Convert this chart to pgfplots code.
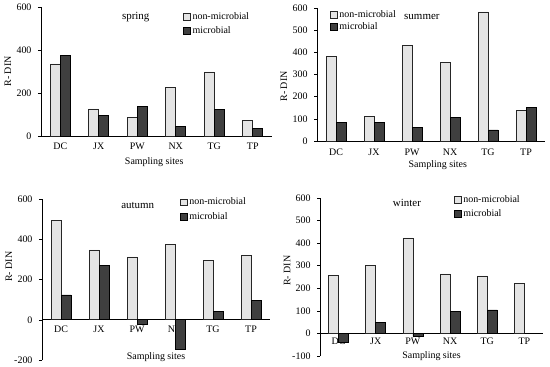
\documentclass[border=0pt]{standalone}
\usepackage{fontspec}
\setmainfont{Liberation Serif}
\usepackage{pgfplots}
\pgfplotsset{compat=1.18}
\definecolor{lightbar}{HTML}{E4E4E4}
\definecolor{darkbar}{HTML}{3F3F3F}
\pgfplotsset{
  panel/.style={
    scale only axis,
    anchor=south west,
    ybar=0pt, bar width=10bp,
    xmin=-0.5, xmax=5.5,
    xtick={0,...,5}, xticklabels={DC,JX,PW,NX,TG,TP},
    axis y line*=left,
    tick align=outside, major tick length=3bp,
    xtick style={draw=none},
    ytick style={black, line width=0.5bp},
    axis line style={black, line width=0.6bp},
    /pgf/number format/assume math mode=true,
    tick label style={font=\fontsize{10}{11}\selectfont},
    label style={font=\fontsize{10}{11}\selectfont},
    yticklabel style={xshift=-3bp},
    hide obscured x ticks=false, hide obscured y ticks=false,
    legend style={draw=none, fill=none, font=\fontsize{10}{11}\selectfont, anchor=north west, inner sep=0pt, row sep=1.5bp},
    legend cell align=left,
    legend image code/.code={\draw[#1, line width=0.5bp] (0bp,-3.4bp) rectangle (6.8bp,3.4bp);},
    clip=false,
  },
  nonm/.style={fill=lightbar, draw=black!85, line width=0.6bp},
  micr/.style={fill=darkbar, draw=black, line width=0.6bp},
}
\begin{document}
\begin{tikzpicture}
\useasboundingbox (0,0) rectangle (550bp,367bp);
% spring
\begin{axis}[panel, at={(41bp,231bp)}, width=231bp, height=129bp,
  axis x line*=bottom, ymin=0, ymax=600, ytick={0,200,400,600},
  ylabel={R- DIN}, ylabel style={at={(axis description cs:-0.143,0.5)}, anchor=center},
  xlabel={Sampling sites}, xlabel style={at={(axis description cs:0.49,-0.2)}, anchor=center},
  legend style={at={(axis description cs:0.615,0.975)}, row sep=2bp}]
\addplot[nonm] coordinates {(0,335) (1,126) (2,88) (3,227) (4,298) (5,74)};
\addplot[micr] coordinates {(0,376) (1,97) (2,137) (3,45) (4,122) (5,34)};
\legend{non-microbial, microbial}
\node[font=\fontsize{11}{12}\selectfont] at (axis description cs:0.41,0.92) {spring};
\end{axis}
% summer
\begin{axis}[panel, at={(317bp,226bp)}, width=228bp, height=133bp,
  axis x line*=bottom, ymin=0, ymax=600, ytick={0,100,...,600},
  xticklabel style={yshift=-1.5bp},
  ylabel={R- DIN}, ylabel style={at={(axis description cs:-0.145,0.41)}, anchor=center},
  xlabel={Sampling sites}, xlabel style={at={(axis description cs:0.53,-0.178)}, anchor=center},
  legend style={at={(axis description cs:0.057,0.995)}, row sep=-1bp}]
\addplot[nonm] coordinates {(0,381) (1,111) (2,433) (3,355) (4,582) (5,139)};
\addplot[micr] coordinates {(0,84) (1,85) (2,63) (3,108) (4,50) (5,153)};
\legend{non-microbial, microbial}
\node[font=\fontsize{11}{12}\selectfont] at (axis description cs:0.46,0.93) {summer};
\end{axis}
% autumn
\begin{axis}[panel, at={(42bp,7bp)}, width=228bp, height=161bp,
  axis x line*=middle, ymin=-200, ymax=600, ytick={-200,0,200,400,600},
  ylabel={R- DIN}, ylabel style={at={(axis description cs:-0.145,0.58)}, anchor=center},
  xlabel={Sampling sites}, xlabel style={at={(axis description cs:0.50,0.02)}, anchor=center},
  legend style={at={(axis description cs:0.605,1.02)}, row sep=2bp}]
\addplot[nonm] coordinates {(0,495) (1,347) (2,312) (3,376) (4,296) (5,319)};
\addplot[micr] coordinates {(0,123) (1,272) (2,-25) (3,-146) (4,41) (5,95)};
\legend{non-microbial, microbial}
\node[font=\fontsize{11}{12}\selectfont] at (axis description cs:0.42,0.96) {autumn};
\end{axis}
% winter
\begin{axis}[panel, at={(320bp,11bp)}, width=223bp, height=158bp,
  axis x line*=middle, ymin=-100, ymax=600, ytick={-100,0,...,600},
  xticklabel style={yshift=2bp},
  ylabel={R- DIN}, ylabel style={at={(axis description cs:-0.148,0.54)}, anchor=center},
  xlabel={Sampling sites}, xlabel style={at={(axis description cs:0.50,0.0)}, anchor=center},
  legend style={at={(axis description cs:0.60,1.03)}, row sep=2bp}]
\addplot[nonm] coordinates {(0,257) (1,301) (2,423) (3,264) (4,255) (5,223)};
\addplot[micr] coordinates {(0,-39) (1,48) (2,-13) (3,99) (4,104) (5,0)};
\legend{non-microbial, microbial}
\node[font=\fontsize{11}{12}\selectfont] at (axis description cs:0.39,0.97) {winter};
\end{axis}
\end{tikzpicture}
\end{document}
